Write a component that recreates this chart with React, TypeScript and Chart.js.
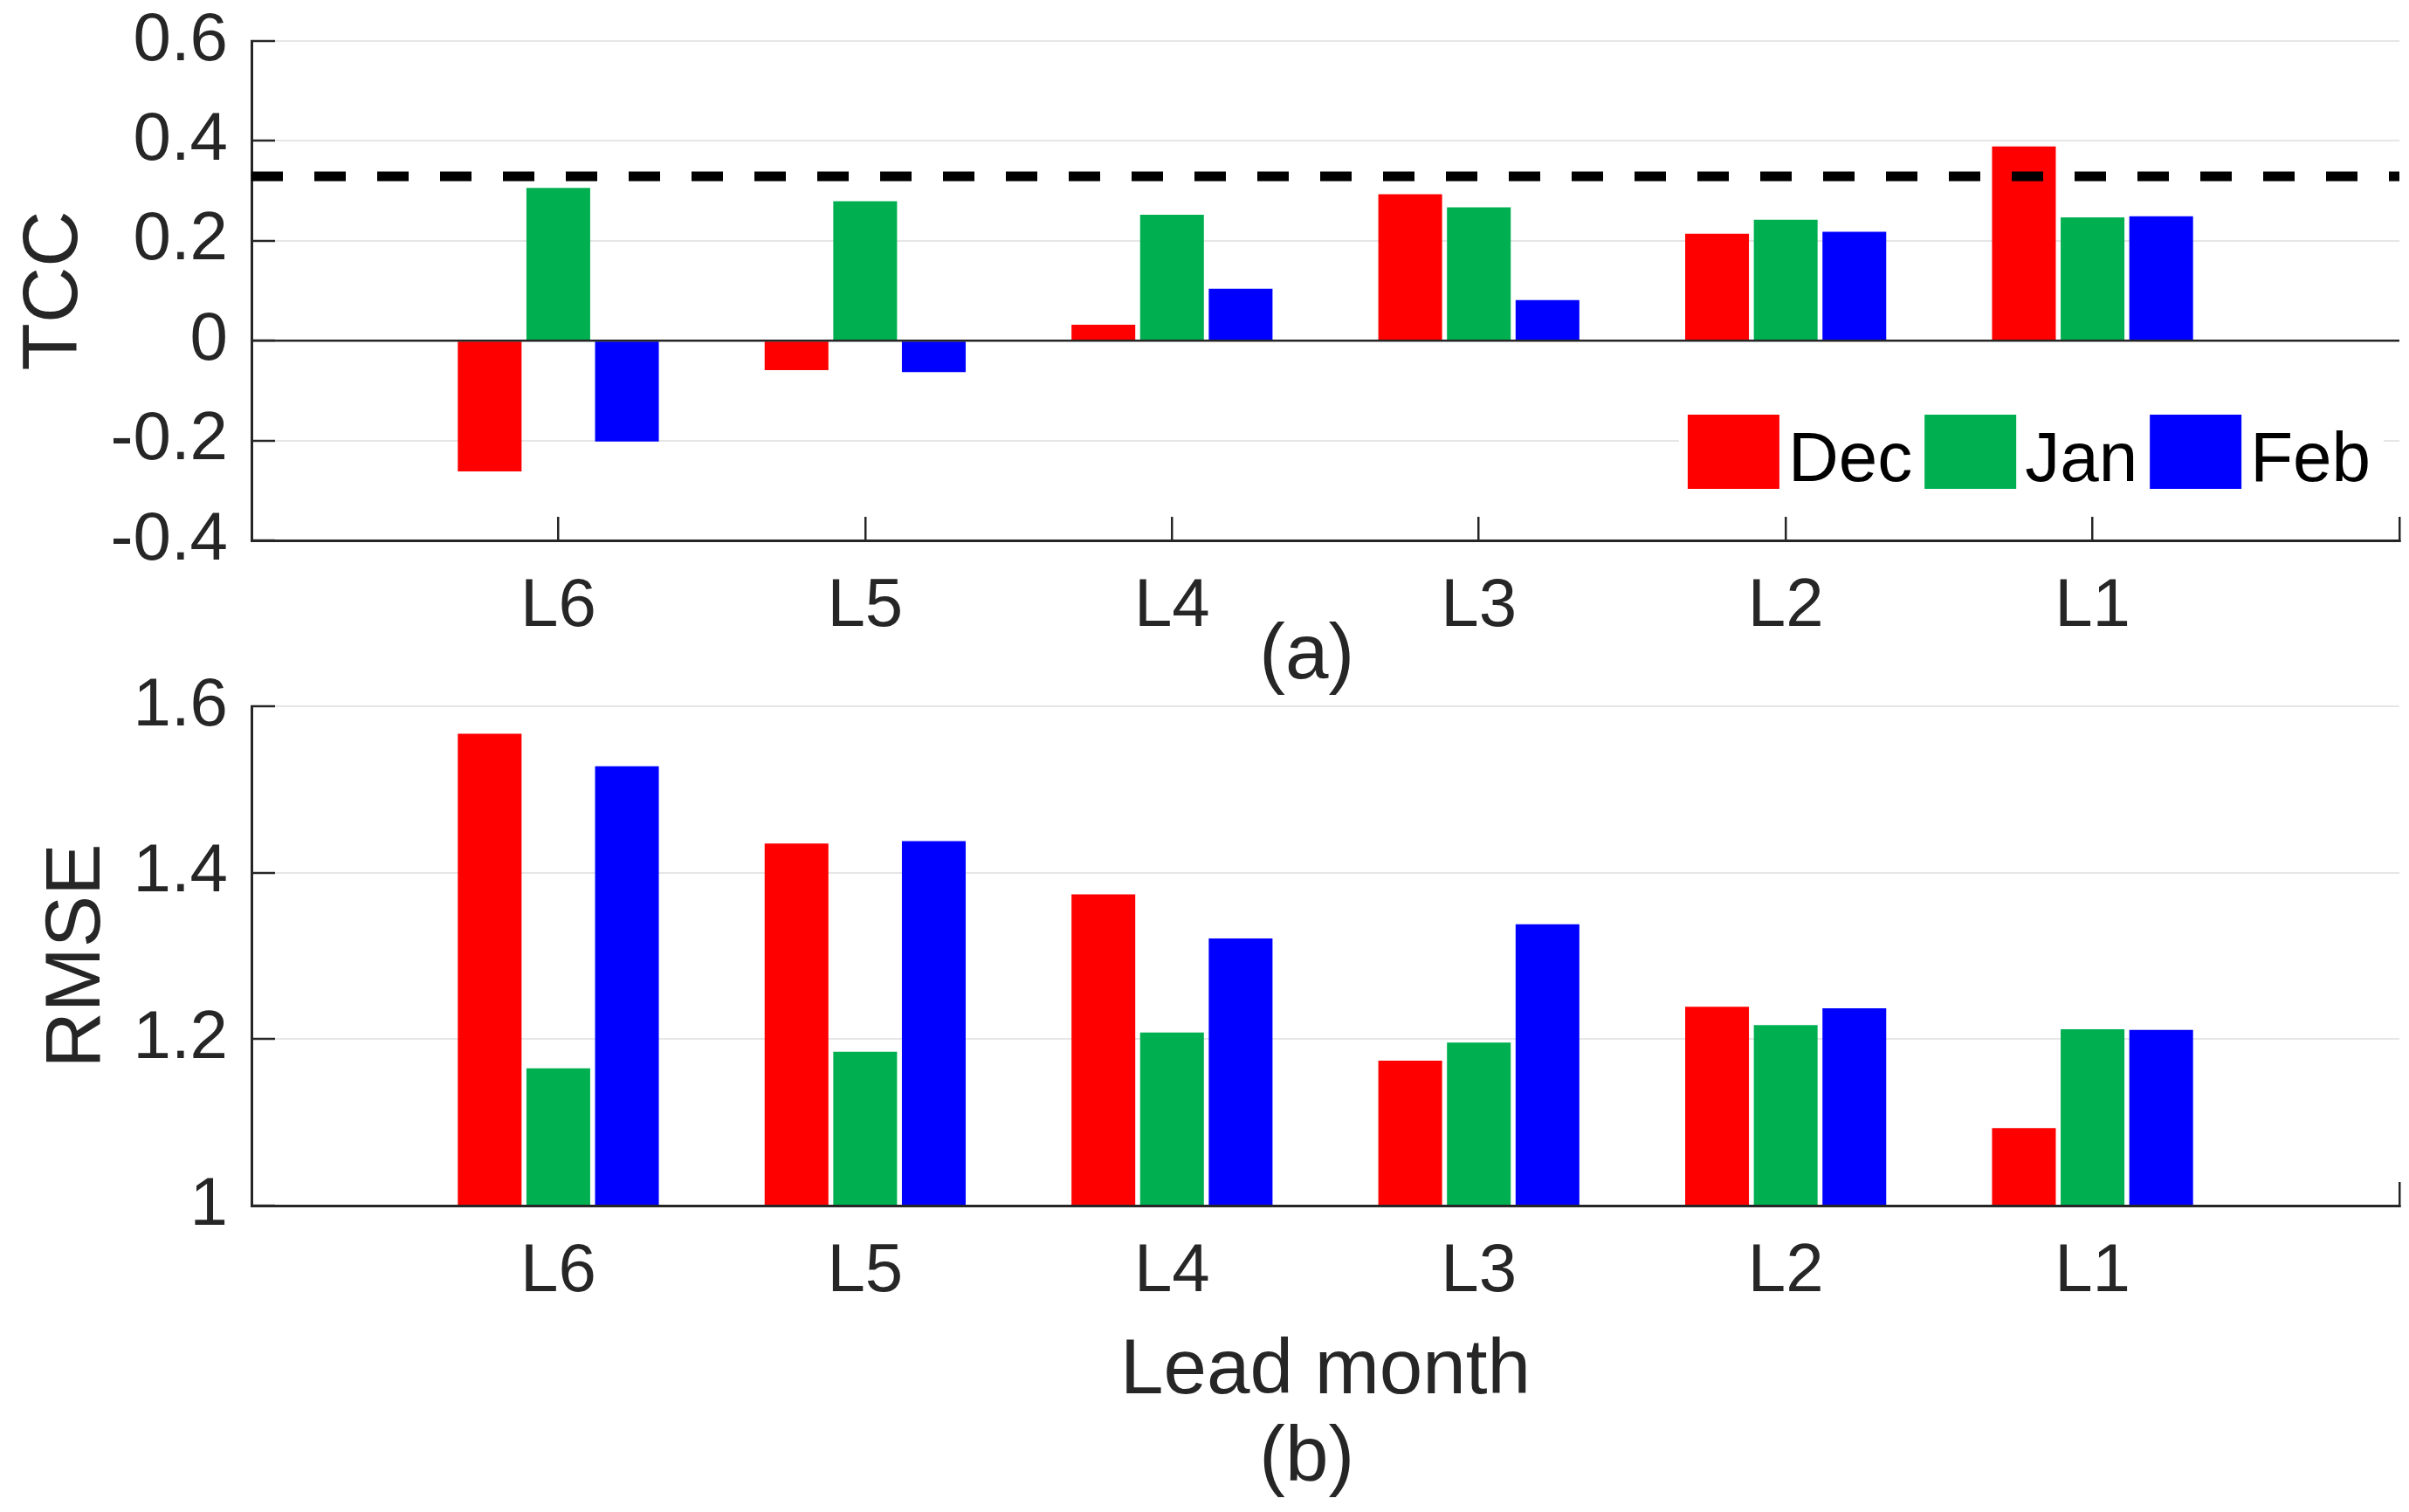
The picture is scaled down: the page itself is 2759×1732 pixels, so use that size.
import React, { useEffect, useRef } from 'react';
import { Chart, registerables } from 'chart.js';

Chart.register(...registerables);

// ---- data ----
const leadMonths = ['L6', 'L5', 'L4', 'L3', 'L2', 'L1'];
const seriesNames = ['Dec', 'Jan', 'Feb'];
const seriesColors = ['#FF0000', '#00B050', '#0000FF'];

const tccDec = [-0.262, -0.059, 0.032, 0.293, 0.214, 0.389];
const tccJan = [0.306, 0.279, 0.252, 0.267, 0.242, 0.247];
const tccFeb = [-0.202, -0.063, 0.104, 0.081, 0.218, 0.249];
const tccThreshold = 0.329;

const rmseDec = [1.567, 1.435, 1.374, 1.174, 1.239, 1.093];
const rmseJan = [1.165, 1.185, 1.208, 1.196, 1.217, 1.212];
const rmseFeb = [1.528, 1.438, 1.321, 1.338, 1.237, 1.211];

const tccRange = [-0.4, 0.6];
const rmseRange = [1.0, 1.6];
const yStep = 0.2;

// ---- styling ----
const FONT = '"Liberation Sans", Arial, Helvetica, sans-serif';
const AXIS = '#262626';
const GRID = '#e6e6e6';

const xLabels = ['', ...leadMonths, ''];
const pad = (arr: number[]) => [null, ...arr, null];

const zeroScalePadding = (s: any) => {
  s.paddingTop = 0;
  s.paddingBottom = 0;
  s.paddingLeft = 0;
  s.paddingRight = 0;
};

const overlayPlugin = {
  id: 'overlay',
  afterDatasetsDraw(chart: any, _args: any, opts: any) {
    const { ctx, chartArea: ca, scales } = chart;
    if (opts.zeroLine) {
      const y = scales.y.getPixelForValue(0);
      ctx.save();
      ctx.strokeStyle = AXIS;
      ctx.lineWidth = 2.5;
      ctx.beginPath();
      ctx.moveTo(ca.left, y);
      ctx.lineTo(ca.right, y);
      ctx.stroke();
      ctx.restore();
    }
    if (opts.legend) {
      const items = chart.data.datasets
        .filter((d: any) => d.type !== 'line')
        .map((d: any) => ({ label: d.label, color: d.backgroundColor }));
      ctx.save();
      ctx.font = `80px ${FONT}`;
      const patchW = 105, patchH = 85, gapPT = 10, gapTP = 14;
      const widths = items.map((it: any) => ctx.measureText(it.label).width);
      const total =
        items.length * (patchW + gapPT) +
        widths.reduce((a: number, b: number) => a + b, 0) +
        (items.length - 1) * gapTP;
      let x = ca.right - 33 - total;
      const top = ca.bottom - 144;
      ctx.fillStyle = '#ffffff';
      ctx.fillRect(x - 10, top - 12, total + 25, patchH + 24);
      ctx.textBaseline = 'alphabetic';
      ctx.textAlign = 'left';
      items.forEach((it: any, i: number) => {
        ctx.fillStyle = it.color;
        ctx.fillRect(x, top, patchW, patchH);
        x += patchW + gapPT;
        ctx.fillStyle = '#000000';
        ctx.fillText(it.label, x, ca.bottom - 68);
        x += widths[i] + gapTP;
      });
      ctx.restore();
    }
  },
};

function makeConfig(p: {
  dec: number[];
  jan: number[];
  feb: number[];
  range: number[];
  yTitle: string;
  yTitlePad: number;
  xTitle: string | string[];
  xTitlePad: number;
  xScaleHeight: number;
  padTop: number;
  threshold?: number;
  zeroLine: boolean;
  legend: boolean;
}): any {
  const bars = [p.dec, p.jan, p.feb].map((vals, i) => ({
    type: 'bar',
    label: seriesNames[i],
    data: pad(vals),
    backgroundColor: seriesColors[i],
    borderWidth: 0,
    categoryPercentage: 0.671,
    barPercentage: 0.929,
    order: 1,
  }));
  const datasets: any[] = [...bars];
  if (p.threshold !== undefined) {
    datasets.push({
      type: 'line',
      label: 'threshold',
      data: xLabels.map(() => p.threshold),
      borderColor: '#000000',
      borderWidth: 11,
      borderDash: [36, 36],
      pointRadius: 0,
      fill: false,
      order: 0,
    });
  }
  return {
    type: 'bar',
    data: { labels: xLabels, datasets },
    options: {
      responsive: false,
      animation: false,
      devicePixelRatio: 1,
      layout: { padding: { top: p.padTop, right: 11, bottom: 0, left: 0 } },
      plugins: {
        legend: { display: false },
        tooltip: { enabled: false },
        title: { display: false },
        overlay: { zeroLine: p.zeroLine, legend: p.legend },
      },
      scales: {
        x: {
          type: 'category',
          offset: false,
          grid: {
            offset: false,
            drawOnChartArea: false,
            drawTicks: true,
            tickLength: -27,
            tickColor: AXIS,
            tickWidth: 2.5,
            lineWidth: 2.5,
          },
          border: { display: true, color: AXIS, width: 3, z: 1 },
          ticks: {
            autoSkip: false,
            maxRotation: 0,
            minRotation: 0,
            padding: 57,
            color: AXIS,
            font: { family: FONT, size: 78 },
          },
          title: {
            display: true,
            text: p.xTitle,
            color: AXIS,
            font: { family: FONT, size: 89, lineHeight: 1.12 },
            padding: { top: 0, bottom: p.xTitlePad },
          },
          afterFit: (s: any) => {
            s.height = p.xScaleHeight;
            zeroScalePadding(s);
          },
        },
        y: {
          min: p.range[0],
          max: p.range[1],
          ticks: {
            stepSize: yStep,
            padding: 54,
            color: AXIS,
            font: { family: FONT, size: 78 },
            callback: (v: any) => String(Math.round(Number(v) * 10) / 10),
          },
          grid: {
            color: GRID,
            lineWidth: 2,
            drawTicks: true,
            tickLength: -27,
            tickColor: AXIS,
            tickWidth: 2.5,
          },
          border: { display: true, color: AXIS, width: 3 },
          title: {
            display: true,
            text: p.yTitle,
            color: AXIS,
            font: { family: FONT, size: 89, lineHeight: 1.12 },
            padding: { top: p.yTitlePad, bottom: 0 },
          },
          afterFit: (s: any) => {
            s.width = 288;
            zeroScalePadding(s);
          },
        },
      },
    },
    plugins: [overlayPlugin],
  };
}

export default function App() {
  const topRef = useRef<HTMLCanvasElement>(null);
  const botRef = useRef<HTMLCanvasElement>(null);

  useEffect(() => {
    const c1 = new Chart(
      topRef.current as HTMLCanvasElement,
      makeConfig({
        dec: tccDec,
        jan: tccJan,
        feb: tccFeb,
        range: tccRange,
        yTitle: 'TCC',
        yTitlePad: 14,
        xTitle: '(a)\u00a0\u2009',
        xTitlePad: 18,
        xScaleHeight: 201,
        padTop: 47,
        threshold: tccThreshold,
        zeroLine: true,
        legend: true,
      })
    );
    const c2 = new Chart(
      botRef.current as HTMLCanvasElement,
      makeConfig({
        dec: rmseDec,
        jan: rmseJan,
        feb: rmseFeb,
        range: rmseRange,
        yTitle: 'RMSE',
        yTitlePad: 40,
        xTitle: ['Lead month', '(b)\u00a0\u2009'],
        xTitlePad: 11,
        xScaleHeight: 351,
        padTop: 49,
        zeroLine: false,
        legend: false,
      })
    );
    return () => {
      c1.destroy();
      c2.destroy();
    };
  }, []);

  return (
    <div
      style={{
        position: 'fixed',
        left: 0,
        top: 0,
        width: 2759,
        height: 1732,
        background: '#ffffff',
        overflow: 'hidden',
      }}
    >
      <canvas
        ref={topRef}
        width={2759}
        height={820}
        style={{ position: 'absolute', left: 0, top: 0 }}
      />
      <canvas
        ref={botRef}
        width={2759}
        height={972}
        style={{ position: 'absolute', left: 0, top: 760 }}
      />
    </div>
  );
}
